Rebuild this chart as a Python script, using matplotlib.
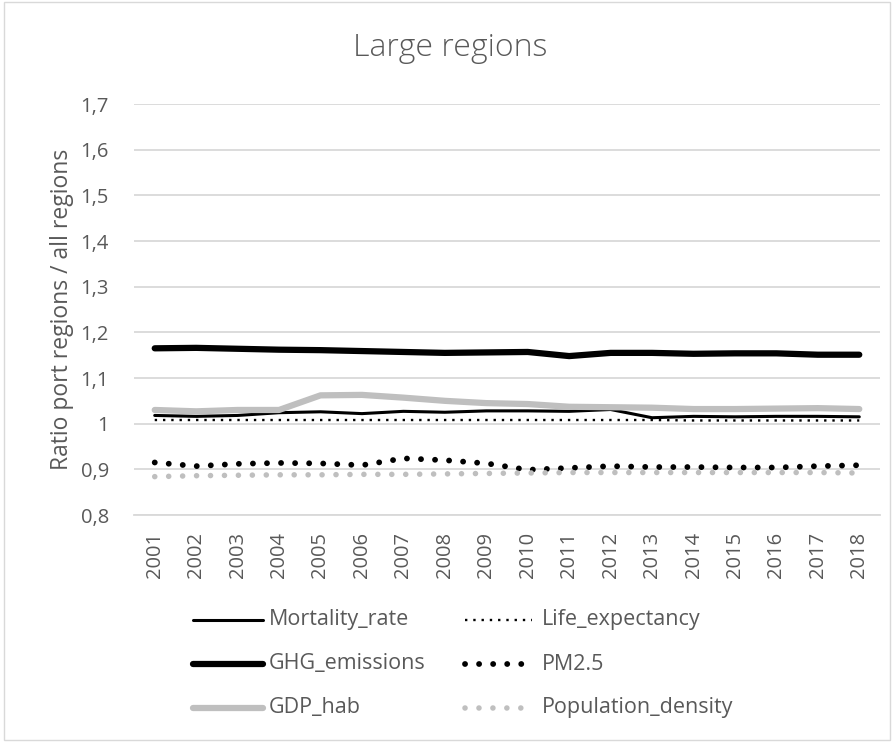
import matplotlib
matplotlib.use("Agg")
import matplotlib.pyplot as plt
from matplotlib.lines import Line2D
from matplotlib.patches import Rectangle

plt.rcParams['font.family'] = ['Open Sans', 'DejaVu Sans']

years = [str(y) for y in range(2001, 2019)]
mortality_rate = [1.018, 1.016, 1.018, 1.024, 1.026, 1.022, 1.027, 1.025, 1.028, 1.028,
                  1.027, 1.031, 1.013, 1.016, 1.015, 1.016, 1.016, 1.015]
life_expectancy = [1.008, 1.008, 1.008, 1.008, 1.008, 1.008, 1.008, 1.008, 1.008, 1.008,
                   1.008, 1.008, 1.008, 1.007, 1.007, 1.007, 1.007, 1.007]
ghg_emissions = [1.165, 1.166, 1.164, 1.162, 1.161, 1.159, 1.157, 1.155, 1.156, 1.157,
                 1.148, 1.155, 1.155, 1.153, 1.154, 1.154, 1.151, 1.151]
pm25 = [0.915, 0.907, 0.912, 0.914, 0.913, 0.909, 0.924, 0.920, 0.913, 0.899,
        0.903, 0.907, 0.905, 0.905, 0.904, 0.904, 0.907, 0.909]
gdp_hab = [1.030, 1.027, 1.030, 1.030, 1.062, 1.063, 1.057, 1.050, 1.045, 1.043,
           1.037, 1.036, 1.035, 1.032, 1.032, 1.033, 1.034, 1.032]
population_density = [0.884, 0.886, 0.887, 0.888, 0.888, 0.889, 0.889, 0.890, 0.891, 0.892,
                      0.893, 0.893, 0.893, 0.893, 0.893, 0.893, 0.893, 0.892]

labels = ["Mortality_rate", "Life_expectancy", "GHG_emissions", "PM2.5", "GDP_hab", "Population_density"]
series = [mortality_rate, life_expectancy, ghg_emissions, pm25, gdp_hab, population_density]

TEXT = '#595959'
GRID = '#D9D9D9'
styles = [
    dict(color='black', lw=2.2, ls='-', solid_capstyle='round'),
    dict(color='black', lw=1.7, ls=(0, (1, 2.5)), dash_capstyle='butt'),
    dict(color='black', lw=4.5, ls='-', solid_capstyle='round'),
    dict(color='black', lw=4.2, ls=(0, (0.01, 2.4)), dash_capstyle='round'),
    dict(color='#BFBFBF', lw=4.5, ls='-', solid_capstyle='round'),
    dict(color='#BFBFBF', lw=4.0, ls=(0, (0.01, 2.5)), dash_capstyle='round'),
]

W, H = 894, 742
fig = plt.figure(figsize=(W / 100, H / 100), dpi=100)
fig.patches.append(Rectangle((4 / W, 2 / H), 1 - 8 / W, 1 - 4 / H, transform=fig.transFigure,
                             fill=False, edgecolor=GRID, lw=1))

ax = fig.add_axes([134 / W, 1 - 515 / H, 746 / W, 411 / H])
x = list(range(len(years)))
for s, st in zip(series, styles):
    ax.plot(x, s, **st)

ax.set_xlim(-0.5, len(years) - 0.5)
ax.set_ylim(0.8, 1.7)
yt = [0.8 + 0.1 * i for i in range(10)]
ax.set_yticks(yt)
ax.set_yticklabels([("%.1f" % v).replace('.', ',') if abs(v - 1) > 1e-9 else "1" for v in yt])
ax.set_xticks(x)
ax.set_xticklabels(years, rotation=90)
ax.grid(axis='y', color=GRID, lw=1.3)
ax.set_axisbelow(True)
for sp in ['top', 'right', 'left']:
    ax.spines[sp].set_visible(False)
ax.spines['bottom'].set_color(GRID)
ax.spines['bottom'].set_linewidth(1.3)
ax.tick_params(axis='both', length=0, colors=TEXT, labelsize=14.5)
ax.tick_params(axis='y', pad=18)
ax.tick_params(axis='x', pad=12)
ax.set_ylabel("Ratio port regions / all regions", color=TEXT, fontsize=16.5)
ax.yaxis.set_label_coords((62 - 134) / 746, 0.5)
ax.yaxis.label.set_va('center')

fig.text(450 / W, 1 - 48 / H, "Large regions", ha='center', va='center', color=TEXT, fontsize=23,
         fontweight='light')

# legend
col_x = [(193, 263, 269), (465, 532, 542)]
row_y = [620, 664, 708]
for i, (lab, st) in enumerate(zip(labels, styles)):
    r, c = divmod(i, 2)
    x0, x1, tx = col_x[c]
    yy = 1 - row_y[r] / H
    ln = Line2D([x0 / W, x1 / W], [yy, yy], transform=fig.transFigure, **st)
    fig.add_artist(ln)
    fig.text(tx / W, yy, lab, ha='left', va='center', color=TEXT, fontsize=15.5)

fig.savefig("out.png", dpi=100)
